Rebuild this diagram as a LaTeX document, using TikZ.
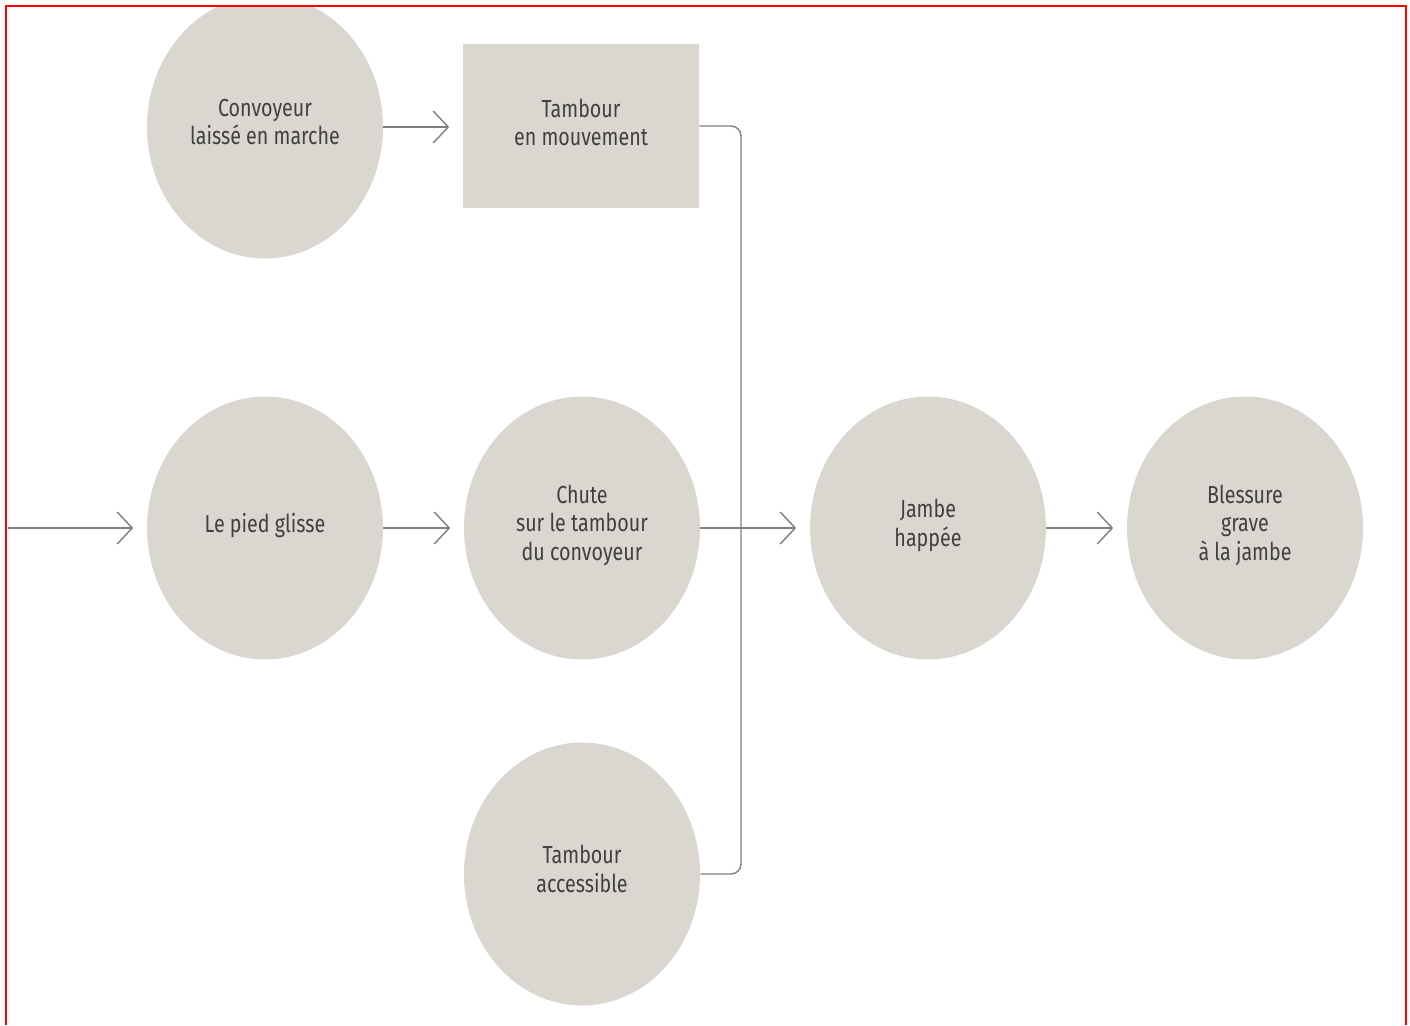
\documentclass[tikz,border=0pt]{standalone}
\usepackage{fontspec}
\setmainfont[FakeStretch=0.8]{Fira Sans}
\usetikzlibrary{shapes.geometric,arrows.meta}
\definecolor{bulle}{HTML}{D9D7CF}
\definecolor{trait}{HTML}{7F7F7F}
\definecolor{texte}{HTML}{404040}
\tikzset{
  fait/.style={ellipse, fill=bulle, inner sep=0pt, minimum width=4.72cm, minimum height=5.26cm,
    align=center, text=texte, text depth=6pt, font=\fontsize{14}{16}\selectfont},
  etat/.style={rectangle, fill=bulle, inner sep=0pt, minimum width=4.72cm, minimum height=3.3cm,
    align=center, text=texte, text depth=4pt, font=\fontsize{14}{16}\selectfont},
  lien/.style={draw=trait, line width=0.8pt},
  fleche/.style={lien, -{Straight Barb[length=0.3cm,width=0.64cm]}, shorten >=0.27cm}
}
\begin{document}
\begin{tikzpicture}[x=0.02cm, y=-0.02cm]
    \useasboundingbox (0,0) rectangle (1410,1025);

    \begin{scope}
    \clip (6,6) rectangle (1406,1025);
    \node[fait] (conv) at (265,127) {Convoyeur\\laissé en marche};
    \end{scope}
    \node[etat] (tamb) at (581,126) {Tambour\\en mouvement};
    \node[fait] (glisse) at (265,528) {Le pied glisse};
    \node[fait] (chute) at (582,528) {Chute\\sur le tambour\\du convoyeur};
    \node[fait] (acces) at (582,874) {Tambour\\accessible};
    \node[fait] (jambe) at (928,528) {Jambe\\happée};
    \node[fait] (bless) at (1245,528) {Blessure\\grave\\à la jambe};

    \coordinate (depart) at (8,528);
    \coordinate (bus) at (741,528);

    \draw[fleche] (depart) -- (glisse.west);
    \draw[fleche] (conv.east) -- (conv.east -| tamb.west);
    \draw[fleche] (glisse.east) -- (chute.west);
    \draw[lien, rounded corners=0.2cm] (tamb.east) -| (bus) |- (acces.east);
    \draw[fleche] (chute.east) -- (jambe.west);
    \draw[fleche] (jambe.east) -- (bless.west);

    \draw[red, line width=1.2pt] (6,1025) -- (6,6) -- (1406,6) -- (1406,1025);
\end{tikzpicture}
\end{document}
